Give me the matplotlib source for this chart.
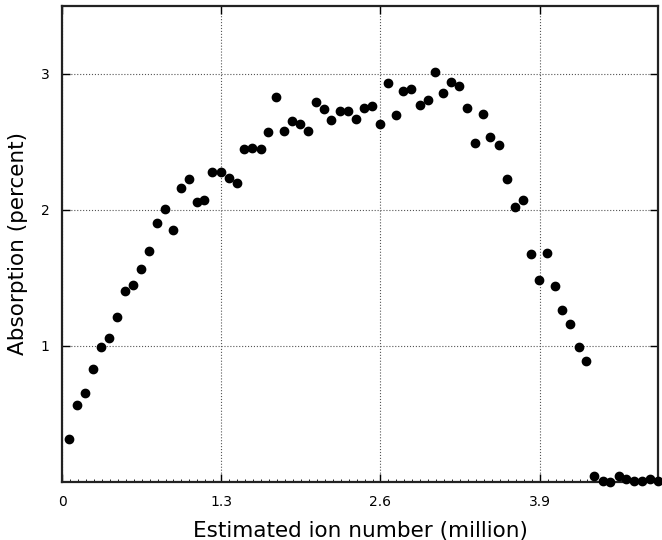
import matplotlib
matplotlib.use("Agg")
import matplotlib.pyplot as plt
from matplotlib.ticker import FixedLocator, MultipleLocator

ion_number = [
    0.060, 0.125, 0.185, 0.250, 0.320, 0.386, 0.449, 0.511, 0.577, 0.645, 0.710,
    0.773, 0.838, 0.903, 0.971, 1.036, 1.099, 1.161, 1.227, 1.295, 1.360, 1.425,
    1.488, 1.553, 1.621, 1.684, 1.749, 1.811, 1.877, 1.942, 2.007, 2.073, 2.138,
    2.200, 2.268, 2.334, 2.399, 2.462, 2.527, 2.595, 2.660, 2.723, 2.785, 2.848,
    2.921, 2.984, 3.049, 3.111, 3.174, 3.242, 3.307, 3.370, 3.435, 3.498, 3.569,
    3.634, 3.697, 3.760, 3.826, 3.896, 3.959, 4.024, 4.086, 4.148, 4.219, 4.282,
    4.347, 4.413, 4.472, 4.548, 4.608, 4.673, 4.738, 4.798, 4.866,
]
absorption = [
    0.313, 0.563, 0.653, 0.832, 0.993, 1.057, 1.211, 1.407, 1.449, 1.569, 1.698,
    1.904, 2.007, 1.855, 2.164, 2.227, 2.056, 2.073, 2.276, 2.276, 2.237, 2.195,
    2.447, 2.455, 2.447, 2.570, 2.829, 2.577, 2.651, 2.634, 2.577, 2.797, 2.739,
    2.658, 2.724, 2.724, 2.668, 2.748, 2.763, 2.634, 2.935, 2.700, 2.871, 2.893,
    2.773, 2.805, 3.015, 2.861, 2.942, 2.910, 2.748, 2.496, 2.707, 2.535, 2.479,
    2.227, 2.024, 2.073, 1.676, 1.488, 1.684, 1.439, 1.261, 1.162, 0.993, 0.888,
    0.044, 0.005, 0.000, 0.044, 0.020, 0.005, 0.005, 0.020, 0.005,
]
x_ticks = [0, 1.3, 2.6, 3.9]
x_tick_labels = ["0", "1.3", "2.6", "3.9"]
y_ticks = [1, 2, 3]
y_tick_labels = ["1", "2", "3"]

fig = plt.figure(figsize=(6.62, 5.40), dpi=100)
ax = fig.add_axes([0.0937, 0.1074, 0.9003, 0.8816])

ax.plot(ion_number, absorption, linestyle="none", marker="o", markersize=6,
        color="black", clip_on=False, zorder=3)

ax.set_xlim(0, ion_number[-1])
ax.set_ylim(0, 3.5)
ax.xaxis.set_major_locator(FixedLocator(x_ticks))
ax.set_xticklabels(x_tick_labels)
ax.yaxis.set_major_locator(FixedLocator(y_ticks))
ax.set_yticklabels(y_tick_labels)
ax.xaxis.set_minor_locator(MultipleLocator(0.065))

ax.tick_params(axis="both", which="major", direction="in", length=6, width=1,
               labelsize=10, top=True, right=True, pad=9)
ax.tick_params(axis="x", which="minor", direction="in", length=2, width=0.6,
               top=False, bottom=True)
ax.grid(True, which="major", linestyle=":", color="#555555", linewidth=0.8)
for s in ax.spines.values():
    s.set_linewidth(1.6)
    s.set_color("#222222")

ax.set_xlabel("Estimated ion number (million)", fontsize=15.5, labelpad=9)
ax.set_ylabel("Absorption (percent)", fontsize=15.5, labelpad=9)

fig.savefig("out.png", dpi=100)
